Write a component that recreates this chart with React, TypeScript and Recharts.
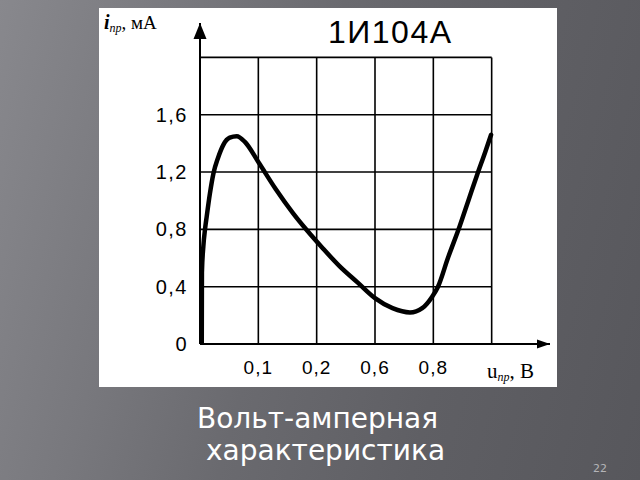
import React from 'react';
import { LineChart, Line, XAxis, YAxis, ReferenceLine, ReferenceDot } from 'recharts';

// Position along the (non-linear) voltage axis, in grid cells
const voltageCells = [0.03, 0.033, 0.057, 0.086, 0.115, 0.17, 0.23, 0.31, 0.4, 0.51, 0.63, 0.77, 1.0, 1.3, 1.6, 1.84, 2.1, 2.4, 2.7, 3.0, 3.3, 3.6, 3.81, 3.98, 4.08, 4.25, 4.45, 4.6, 4.75, 4.89, 4.99];
// Forward current, mA
const currentMA = [0, 0.5, 0.68, 0.8, 0.89, 1.05, 1.19, 1.3, 1.39, 1.44, 1.45, 1.41, 1.27, 1.08, 0.91, 0.79, 0.67, 0.54, 0.43, 0.32, 0.25, 0.22, 0.25, 0.33, 0.4, 0.6, 0.82, 1.0, 1.18, 1.34, 1.46];

const xTickPositions = [1, 2, 3, 4];
const xTickLabels = ['0,1', '0,2', '0,6', '0,8'];
const yTickValues = [0, 0.4, 0.8, 1.2, 1.6];
const yTickLabels = ['0', '0,4', '0,8', '1,2', '1,6'];
const gridX = [1, 2, 3, 4, 5];
const gridY = [0.4, 0.8, 1.2, 1.6, 2.0];
const gridTopY = 2.0;
const gridRightX = 5;
const axisMaxX = 6;
const axisMaxY = 2.24;

const data = voltageCells.map((x, i) => ({ x, y: currentMA[i] }));

const labelFont = '"Liberation Sans", Arial, sans-serif';
const serifFont = '"Liberation Serif", "Times New Roman", serif';
const slideFont = '"DejaVu Sans", Verdana, sans-serif';

export default function App() {
  return (
    <div
      style={{
        position: 'absolute',
        left: 0,
        top: 0,
        width: 640,
        height: 480,
        overflow: 'hidden',
        background:
          'linear-gradient(105deg, #88888d 0%, #78787d 25%, #6a6a6f 45%, #5f5f64 70%, #57575c 100%)',
      }}
    >
      <div style={{ position: 'absolute', left: 99, top: 8, width: 458, height: 379, background: '#fff' }}>
        <LineChart width={458} height={379} data={data} margin={{ top: 15, right: 7, left: 0, bottom: 0 }}>
          <XAxis
            type="number"
            dataKey="x"
            domain={[0, axisMaxX]}
            ticks={xTickPositions}
            tickFormatter={(v: number) => xTickLabels[xTickPositions.indexOf(v)] ?? ''}
            height={43}
            tickLine={false}
            tickSize={0}
            tickMargin={17}
            axisLine={{ stroke: '#000', strokeWidth: 2 }}
            tick={{ fill: '#000', fontSize: 19, fontFamily: labelFont, letterSpacing: 1 }}
            allowDataOverflow
          />
          <YAxis
            type="number"
            dataKey="y"
            domain={[0, axisMaxY]}
            ticks={yTickValues}
            tickFormatter={(v: number) => yTickLabels[yTickValues.indexOf(v)] ?? ''}
            width={101}
            tickLine={false}
            tickSize={0}
            tickMargin={12}
            axisLine={{ stroke: '#000', strokeWidth: 2 }}
            tick={{ fill: '#000', fontSize: 20, fontFamily: labelFont, letterSpacing: 1.5 }}
            allowDataOverflow
          />
          {gridX.map((v) => (
            <ReferenceLine
              key={'gx' + v}
              segment={[{ x: v, y: 0 }, { x: v, y: gridTopY }]}
              stroke="#000"
              strokeWidth={1.6}
            />
          ))}
          {gridY.map((v) => (
            <ReferenceLine
              key={'gy' + v}
              segment={[{ x: 0, y: v }, { x: gridRightX, y: v }]}
              stroke="#000"
              strokeWidth={1.6}
            />
          ))}
          <ReferenceDot
            x={0}
            y={axisMaxY}
            r={0}
            shape={(p: any) => <path d={`M${p.cx},${p.cy} l-6.5,16 l13,0 z`} fill="#000" />}
          />
          <ReferenceDot
            x={axisMaxX}
            y={0}
            r={0}
            shape={(p: any) => <path d={`M${p.cx},${p.cy} l-13,-4.5 l0,9 z`} fill="#000" />}
          />
          <Line
            type="monotone"
            dataKey="y"
            stroke="#000"
            strokeWidth={4.5}
            dot={false}
            isAnimationActive={false}
            strokeLinecap="round"
            strokeLinejoin="round"
          />
        </LineChart>
      </div>
      <svg width={640} height={480} style={{ position: 'absolute', left: 0, top: 0, pointerEvents: 'none' }}>
        <text x={104} y={29} fontFamily={serifFont} fontSize={19} fill="#000">
          <tspan fontWeight="bold" fontStyle="italic" fontSize={20}>i</tspan>
          <tspan fontStyle="italic" fontSize={12} dy={3}>пр</tspan>
          <tspan dy={-3}>, мА</tspan>
        </text>
        <text x={328} y={43} fontFamily={labelFont} fontSize={32} fill="#000" letterSpacing={1.5}>
          1И104А
        </text>
        <text x={487} y={378} fontFamily={serifFont} fontSize={21} fill="#000">
          <tspan>u</tspan>
          <tspan fontStyle="italic" fontSize={12} dy={3}>пр</tspan>
          <tspan dy={-3}>, В</tspan>
        </text>
        <text x={197} y={428} fontFamily={slideFont} fontSize={28} fill="#fff">
          Вольт-амперная
        </text>
        <text x={206} y={460} fontFamily={slideFont} fontSize={28} fill="#fff">
          характеристика
        </text>
        <text x={593} y={472} fontFamily={slideFont} fontSize={11} fill="#b4b4b8">
          22
        </text>
      </svg>
    </div>
  );
}
